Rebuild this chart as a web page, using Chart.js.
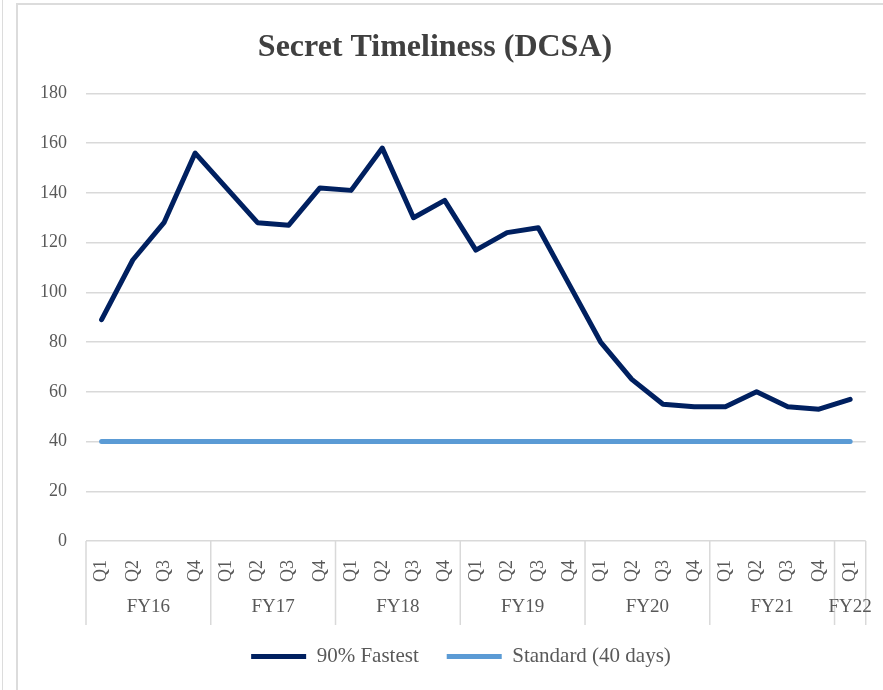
<!DOCTYPE html>
<html>
<head>
<meta charset="utf-8">
<script src="https://cdn.jsdelivr.net/npm/chart.js@4/dist/chart.umd.min.js"></script>
<style>
    body { margin: 0; background: #ffffff; }
    #wrap { position: relative; width: 883px; height: 690px; }
    .edge { position: absolute; background: #dcdcdc; }
    canvas { position: absolute; left: 0; top: 0; }
</style>
</head>
<body>
<div id="wrap">
    <div class="edge" style="left:2px; top:0; width:1px; height:690px;"></div>
    <div class="edge" style="left:16px; top:3px; width:2px; height:687px;"></div>
    <div class="edge" style="left:16px; top:3px; width:867px; height:2px;"></div>
    <canvas id="grafico" width="883" height="690"></canvas>
</div>
<script>
const quarters = [
    'Q1', 'Q2', 'Q3', 'Q4', 'Q1', 'Q2', 'Q3', 'Q4', 'Q1', 'Q2', 'Q3', 'Q4',
    'Q1', 'Q2', 'Q3', 'Q4', 'Q1', 'Q2', 'Q3', 'Q4', 'Q1', 'Q2', 'Q3', 'Q4', 'Q1'
];
const fiscalYears = ['FY16', 'FY17', 'FY18', 'FY19', 'FY20', 'FY21', 'FY22'];
const quartersPerYear = [4, 4, 4, 4, 4, 4, 1];
const fastest90 = [89, 113, 128, 156, 142, 128, 127, 142, 141, 158, 130, 137, 117, 124, 126, 103, 80, 65, 55, 54, 54, 60, 54, 53, 57];
const standard40 = [40, 40, 40, 40, 40, 40, 40, 40, 40, 40, 40, 40, 40, 40, 40, 40, 40, 40, 40, 40, 40, 40, 40, 40, 40];
const yTicks = [0, 20, 40, 60, 80, 100, 120, 140, 160, 180];

const serif = "'Liberation Serif', 'DejaVu Serif', serif";
const gridColor = '#d9d9d9';
const textColor = '#595959';

// etiquetas de año fiscal debajo de los trimestres
const fiscalYearAxis = {
    id: 'fiscalYearAxis',
    afterLayout(chart) {
        chart.legend.left += 26;
        chart.legend.right += 26;
    },
    afterDraw(chart) {
        const ctx = chart.ctx;
        const x = chart.scales.x;
        const area = chart.chartArea;
        const half = (x.getPixelForValue(1) - x.getPixelForValue(0)) / 2;
        const bottom = area.bottom + 84;

        ctx.save();
        ctx.strokeStyle = gridColor;
        ctx.lineWidth = 1.5;
        ctx.fillStyle = textColor;
        ctx.font = '19px ' + serif;
        ctx.textAlign = 'center';
        ctx.textBaseline = 'middle';

        let start = 0;
        fiscalYears.forEach((fy, i) => {
            const end = start + quartersPerYear[i] - 1;
            const left = x.getPixelForValue(start) - half;
            const right = x.getPixelForValue(end) + half;
            ctx.beginPath();
            ctx.moveTo(left, area.bottom);
            ctx.lineTo(left, bottom);
            ctx.stroke();
            if (i === fiscalYears.length - 1) {
                ctx.beginPath();
                ctx.moveTo(right, area.bottom);
                ctx.lineTo(right, bottom);
                ctx.stroke();
            }
            ctx.fillText(fy, (left + right) / 2, area.bottom + 66);
            start = end + 1;
        });
        ctx.restore();
    }
};

new Chart(document.getElementById('grafico').getContext('2d'), {
    type: 'line',
    data: {
        labels: quarters,
        datasets: [
            {
                label: '90% Fastest',
                data: fastest90,
                borderColor: '#002060',
                backgroundColor: '#002060',
                borderWidth: 5,
                borderCapStyle: 'round',
                borderJoinStyle: 'round',
                pointRadius: 0,
                tension: 0
            },
            {
                label: 'Standard (40 days)',
                data: standard40,
                borderColor: '#5b9bd5',
                backgroundColor: '#5b9bd5',
                borderWidth: 5,
                borderCapStyle: 'round',
                pointRadius: 0,
                tension: 0
            }
        ]
    },
    options: {
        responsive: false,
        animation: false,
        layout: { padding: { left: 0, right: 13, top: 0, bottom: 13 } },
        scales: {
            x: {
                offset: true,
                grid: { display: false },
                border: { display: false },
                ticks: {
                    autoSkip: false,
                    minRotation: 90,
                    maxRotation: 90,
                    padding: 11,
                    color: textColor,
                    font: { family: serif, size: 18 }
                },
                afterFit(scale) { scale.height = 77; }
            },
            y: {
                min: 0,
                max: 180,
                afterBuildTicks(scale) { scale.ticks = yTicks.map(v => ({ value: v })); },
                grid: { color: gridColor, lineWidth: 1.5, drawTicks: false },
                border: { display: false },
                ticks: {
                    padding: 19,
                    color: textColor,
                    font: { family: serif, size: 18 }
                },
                afterFit(scale) { scale.width = 86; }
            }
        },
        plugins: {
            title: {
                display: true,
                text: 'Secret Timeliness (DCSA)',
                color: '#404040',
                font: { family: serif, size: 32, weight: 'bold' },
                padding: { top: 29, bottom: 26 }
            },
            legend: {
                display: true,
                position: 'bottom',
                labels: {
                    usePointStyle: true,
                    pointStyle: 'line',
                    pointStyleWidth: 55,
                    boxWidth: 55,
                    padding: 28,
                    color: textColor,
                    font: { family: serif, size: 21 }
                }
            },
            tooltip: { enabled: false }
        }
    },
    plugins: [fiscalYearAxis]
});
</script>
</body>
</html>
